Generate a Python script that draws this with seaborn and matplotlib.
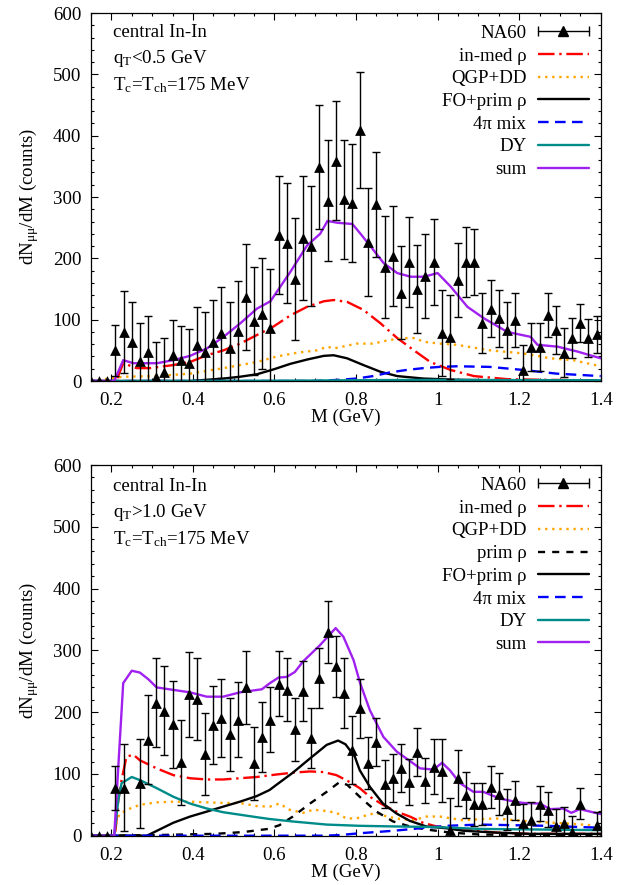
import numpy as np
import matplotlib
matplotlib.use("Agg")
import matplotlib.pyplot as plt
import seaborn as sns
from matplotlib.lines import Line2D
from matplotlib.legend_handler import HandlerLine2D, HandlerTuple
from matplotlib.ticker import MultipleLocator

# ---------------- data ----------------
x_ticks = [0.2, 0.4, 0.6, 0.8, 1.0, 1.2, 1.4]
x_ticklabels = ["0.2", "0.4", "0.6", "0.8", "1", "1.2", "1.4"]
y_ticks = [0, 100, 200, 300, 400, 500, 600]
y_ticklabels = ["0", "100", "200", "300", "400", "500", "600"]

m_data = [0.15, 0.17, 0.19, 0.21, 0.23, 0.25, 0.27, 0.29, 0.31, 0.33, 0.35, 0.37, 0.39,
          0.41, 0.43, 0.45, 0.47, 0.49, 0.51, 0.53, 0.55, 0.57, 0.59, 0.61, 0.63, 0.65,
          0.67, 0.69, 0.71, 0.73, 0.75, 0.77, 0.79, 0.81, 0.83, 0.85, 0.87, 0.89, 0.91,
          0.93, 0.95, 0.97, 0.99, 1.01, 1.03, 1.05, 1.07, 1.09, 1.11, 1.13, 1.15, 1.17,
          1.19, 1.21, 1.23, 1.25, 1.27, 1.29, 1.31, 1.33, 1.35, 1.37, 1.39]

# top panel: q_T < 0.5 GeV
top_na60 = [0, 0, 0, 50, 80, 64, 33, 48, 7, 15, 42, 34, 29, 59, 48, 64, 79, 53, 81, 137,
            98, 110, 87, 238, 225, 166, 233, 220, 349, 294, 359, 296, 290, 409, 227, 288,
            186, 204, 144, 194, 150, 171, 194, 78, 72, 165, 194, 194, 94, 118, 102, 83, 99,
            18, 56, 56, 108, 83, 46, 70, 94, 70, 76]
top_na60_err = [0, 0, 0, 42, 67, 64, 61, 58, 56, 55, 57, 56, 56, 62, 65, 68, 74, 76, 82, 86,
                88, 91, 95, 96, 98, 99, 101, 98, 101, 99, 97, 97, 96, 94, 88, 86, 83, 82, 76,
                74, 72, 68, 70, 70, 69, 60, 57, 54, 49, 47, 47, 46, 44, 41, 39, 39, 36, 39,
                40, 32, 31, 31, 30]

top_inmed_m = [0.15, 0.212, 0.229, 0.262, 0.295, 0.352, 0.393, 0.434, 0.475, 0.516, 0.557,
               0.598, 0.639, 0.68, 0.721, 0.745, 0.778, 0.818, 0.86, 0.901, 0.942, 0.982,
               1.032, 1.089, 1.171, 1.253, 1.40]
top_inmed = [0, 0, 29, 21, 21, 26, 31, 42, 50, 61, 75, 89, 107, 121, 130, 132, 129, 116, 94,
             70, 50, 31, 18, 8, 3, 2, 1]
top_qgp_m = [0.15, 0.207, 0.229, 0.312, 0.393, 0.475, 0.557, 0.606, 0.655, 0.704, 0.73,
             0.745, 0.802, 0.842, 0.883, 0.924, 0.945, 0.965, 1.005, 1.047, 1.128, 1.21,
             1.276, 1.332, 1.40]
top_qgp = [0, 5, 7, 8, 12, 21, 31, 40, 46, 50, 56, 53, 61, 61, 67, 70, 70, 64, 61, 59, 50,
           45, 37, 34, 24]
top_fo_m = [0.15, 0.393, 0.475, 0.516, 0.557, 0.598, 0.639, 0.68, 0.721, 0.745, 0.778,
            0.818, 0.86, 0.901, 0.965, 1.047, 1.21, 1.40]
top_fo = [0, 0, 4, 7, 11, 19, 28, 35, 41, 42, 37, 26, 15, 8, 4, 2, 0.5, 0]
top_mix_m = [0.15, 0.70, 0.76, 0.801, 0.842, 0.883, 0.924, 0.965, 1.005, 1.047, 1.128,
             1.21, 1.292, 1.40]
top_mix = [0, 0, 2, 4, 8, 14, 18, 21, 23, 24, 23, 18, 12, 8]
top_dy_m = [0.15, 0.5, 0.7, 0.85, 1.0, 1.2, 1.4]
top_dy = [0, 0.3, 0.8, 1.5, 1.8, 1.5, 1.2]
top_sum_m = [0.15, 0.207, 0.229, 0.254, 0.312, 0.352, 0.393, 0.434, 0.475, 0.516, 0.557,
             0.59, 0.639, 0.68, 0.712, 0.73, 0.754, 0.791, 0.811, 0.835, 0.868, 0.901,
             0.934, 0.967, 1.0, 1.032, 1.073, 1.114, 1.171, 1.228, 1.245, 1.294, 1.343, 1.40]
top_sum = [0, 0, 34, 29, 29, 34, 41, 53, 72, 94, 118, 130, 178, 221, 240, 261, 258, 256,
           240, 220, 192, 176, 170, 170, 176, 154, 121, 102, 80, 72, 59, 56, 48, 37]

# bottom panel: q_T > 1.0 GeV
bot_na60 = [0, 0, 0, 77, 78, np.nan, 85, 155, 215, 202, 180, 119, 229, 221, 132, 179, 191,
            164, 188, 240, 117, 160, 188, 246, 236, 172, 234, 158, 255, 330, 274, 231, 138,
            206, 118, 152, 84, 93, 109, 87, 135, 89, 112, 105, 9, 93, 66, 51, 52, 79, 67,
            43, 57, 21, 25, 52, 42, 16, 20, 6, 52, np.nan, 17]
bot_na60_err = [0, 0, 0, 36, 70, np.nan, 72, 72, 72, 72, 70, 69, 69, 66, 66, 63, 63, 59, 60,
                59, 59, 57, 53, 53, 51, 51, 49, 48, 48, 50, 50, 57, 55, 48, 42, 39, 39, 39,
                39, 37, 39, 36, 45, 51, 52, 45, 37, 35, 34, 34, 34, 33, 32, 30, 30, 29, 28,
                28, 26, 26, 25, np.nan, 22]

bot_inmed_m = [0.15, 0.209, 0.217, 0.225, 0.237, 0.254, 0.27, 0.311, 0.352, 0.393, 0.434,
               0.474, 0.515, 0.556, 0.604, 0.645, 0.687, 0.72, 0.752, 0.784, 0.809, 0.834,
               0.866, 0.899, 0.932, 0.964, 0.997, 1.063, 1.144, 1.226, 1.40]
bot_inmed = [0, 0, 58, 90, 128, 131, 122, 109, 98, 93, 91, 91, 93, 95, 99, 102, 104, 103,
             98, 87, 77, 63, 50, 39, 31, 21, 15, 10, 5, 3, 3]
bot_qgp_m = [0.15, 0.207, 0.213, 0.221, 0.246, 0.27, 0.311, 0.352, 0.393, 0.434, 0.474,
             0.515, 0.556, 0.588, 0.612, 0.637, 0.67, 0.695, 0.728, 0.752, 0.776, 0.801,
             0.825, 0.85, 0.875, 0.908, 0.94, 0.973, 1.006, 1.062, 1.141, 1.226, 1.31, 1.40]
bot_qgp = [0, 0, 25, 36, 44, 50, 54, 55, 55, 54, 53, 53, 48, 47, 52, 42, 37, 42, 40, 37,
           28, 28, 33, 37, 31, 27, 25, 31, 31, 25, 28, 23, 20, 16]
bot_prim_m = [0.15, 0.306, 0.455, 0.525, 0.585, 0.612, 0.645, 0.687, 0.728, 0.76, 0.779,
              0.809, 0.85, 0.891, 0.932, 0.973, 1.032, 1.102, 1.201, 1.40]
bot_prim = [0, 1, 3, 6, 11, 17, 31, 52, 71, 87, 82, 63, 39, 23, 15, 10, 5, 2, 1, 0.5]
bot_fo_m = [0.15, 0.287, 0.352, 0.393, 0.434, 0.474, 0.515, 0.556, 0.588, 0.604, 0.645,
            0.687, 0.728, 0.756, 0.774, 0.797, 0.809, 0.834, 0.866, 0.899, 0.932, 0.972,
            1.022, 1.063, 1.144, 1.226, 1.40]
bot_fo = [0, 0, 21, 31, 39, 47, 55, 64, 74, 82, 102, 125, 147, 154, 148, 128, 106, 79, 52,
          36, 24, 15, 12, 8, 5, 3, 3]
bot_mix_m = [0.15, 0.72, 0.76, 0.809, 0.892, 0.973, 1.022, 1.104, 1.185, 1.267, 1.348, 1.40]
bot_mix = [0, 0, 1, 4, 8, 13, 16, 18, 17, 16, 14, 13]
bot_dy_m = [0.15, 0.207, 0.217, 0.225, 0.25, 0.27, 0.311, 0.352, 0.393, 0.434, 0.474,
            0.515, 0.556, 0.588, 0.645, 0.728, 0.809, 0.892, 0.997, 1.102, 1.251, 1.40]
bot_dy = [0, 0, 58, 85, 95, 90, 77, 63, 52, 44, 38, 34, 30, 27, 23, 18, 16, 15, 14, 11,
          10, 9]
bot_sum_m = [0.15, 0.207, 0.229, 0.25, 0.27, 0.291, 0.311, 0.352, 0.393, 0.434, 0.474,
             0.515, 0.569, 0.589, 0.61, 0.63, 0.65, 0.67, 0.711, 0.75, 0.769, 0.794, 0.81,
             0.834, 0.867, 0.9, 0.932, 0.957, 0.99, 1.011, 1.03, 1.055, 1.088, 1.112, 1.153,
             1.19, 1.21, 1.251, 1.276, 1.308, 1.328, 1.349, 1.374, 1.40]
bot_sum = [0, 0, 247, 267, 264, 253, 240, 236, 232, 225, 225, 232, 237, 247, 256, 257, 265,
           282, 308, 336, 322, 284, 247, 203, 160, 136, 121, 109, 107, 118, 106, 85, 71, 71,
           60, 55, 53, 52, 43, 44, 37, 43, 39, 35]

top_text = ["central In-In", r"q$_{\mathrm{T}}$<0.5 GeV", r"T$_{\mathrm{c}}$=T$_{\mathrm{ch}}$=175 MeV"]
bot_text = ["central In-In", r"q$_{\mathrm{T}}$>1.0 GeV", r"T$_{\mathrm{c}}$=T$_{\mathrm{ch}}$=175 MeV"]

# ---------------- style ----------------
sns.set_theme(style="ticks")
plt.rcParams['font.family'] = ['Liberation Serif', 'DejaVu Serif']
plt.rcParams['mathtext.fontset'] = 'custom'
plt.rcParams['mathtext.rm'] = 'Liberation Serif'
plt.rcParams['mathtext.it'] = 'Liberation Serif:italic'
plt.rcParams['mathtext.bf'] = 'Liberation Serif:bold'
FS = 13.6
plt.rcParams['font.size'] = FS
plt.rcParams['axes.edgecolor'] = 'black'
plt.rcParams['xtick.color'] = 'black'
plt.rcParams['ytick.color'] = 'black'
plt.rcParams['text.color'] = 'black'
plt.rcParams['axes.labelcolor'] = 'black'

STY = {
    'inmed': dict(color='#ff0000', ls=(0, (7, 2, 1, 2))),
    'qgp': dict(color='#ffa500', ls=(0, (1, 2))),
    'prim': dict(color='black', ls=(0, (3, 3))),
    'fo': dict(color='black', ls='-'),
    'mix': dict(color='#0000ff', ls=(0, (4.5, 2.7))),
    'dy': dict(color='#008b8b', ls='-'),
    'sum': dict(color='#a020f0', ls='-'),
}
LABELS = {'inmed': 'in-med ρ', 'qgp': 'QGP+DD', 'prim': 'prim ρ', 'fo': 'FO+prim ρ',
          'mix': '4π mix', 'dy': 'DY', 'sum': 'sum'}
LW = 1.7

fig = plt.figure(figsize=(6.31, 8.85), dpi=100)
fig.patch.set_facecolor('white')
ax_top = fig.add_axes([91 / 631, 1 - 381 / 885, 509.7 / 631, 368 / 885])
ax_bot = fig.add_axes([91 / 631, 1 - 835.7 / 885, 509.7 / 631, 370.7 / 885])


def draw_panel(ax, na60, err, curves, texts, text_y):
    ax.set_facecolor('white')
    for key, (mx, my) in curves.items():
        s = STY[key]
        sns.lineplot(x=mx, y=my, ax=ax, color=s['color'], linestyle=s['ls'], linewidth=LW,
                     sort=False, estimator=None, legend=False, zorder=2)
    ax.errorbar(m_data, na60, yerr=err, fmt='none', ecolor='black', elinewidth=1.0,
                capsize=3.2, capthick=1.0, zorder=3)
    sns.scatterplot(x=m_data, y=na60, ax=ax, marker='^', color='black', s=60,
                    linewidth=0, legend=False, zorder=4)
    ax.set_xlim(0.15, 1.4)
    ax.set_ylim(0, 600)
    ax.set_xticks(x_ticks, x_ticklabels)
    ax.set_yticks(y_ticks, y_ticklabels)
    ax.xaxis.set_minor_locator(MultipleLocator(0.05))
    ax.yaxis.set_minor_locator(MultipleLocator(20))
    ax.tick_params(which='both', direction='in', top=True, right=True, width=0.8,
                   labelsize=FS)
    ax.tick_params(which='major', length=5)
    ax.tick_params(which='minor', length=2.5)
    ax.tick_params(axis='x', pad=8)
    ax.tick_params(axis='y', pad=7)
    for sp in ax.spines.values():
        sp.set_linewidth(0.9)
        sp.set_color('black')
    ax.set_xlabel('M (GeV)', fontsize=FS, labelpad=0)
    ax.set_ylabel(r'dN$_{\mathrm{μμ}}$/dM (counts)', fontsize=FS)
    ax.yaxis.set_label_coords(-0.098, 0.5)
    for t, yy in zip(texts, text_y):
        ax.text(0.0425, yy, t, transform=ax.transAxes, ha='left', va='baseline',
                fontsize=FS)

    # legend
    cap = Line2D([], [], color='black', lw=1.0, marker='|', markersize=7,
                 markeredgewidth=1.0)
    tri = Line2D([], [], ls='none', marker='^', color='black', markersize=7.5)
    handles = [(cap, tri)]
    labels = ['NA60']
    for key in curves:
        s = STY[key]
        handles.append(Line2D([], [], color=s['color'], ls=s['ls'], lw=LW))
        labels.append(LABELS[key])
    ax.legend(handles, labels, loc='upper right', bbox_to_anchor=(0.977, 0.968),
              frameon=False, markerfirst=False, borderpad=0, borderaxespad=0,
              handlelength=2.7, handletextpad=0.62, labelspacing=0.29, fontsize=FS,
              handler_map={cap: HandlerLine2D(numpoints=2, marker_pad=0),
                           tri: HandlerLine2D(numpoints=1),
                           tuple: HandlerTuple(ndivide=1, pad=0)})


top_curves = {
    'inmed': (top_inmed_m, top_inmed),
    'qgp': (top_qgp_m, top_qgp),
    'fo': (top_fo_m, top_fo),
    'mix': (top_mix_m, top_mix),
    'dy': (top_dy_m, top_dy),
    'sum': (top_sum_m, top_sum),
}
bot_curves = {
    'inmed': (bot_inmed_m, bot_inmed),
    'qgp': (bot_qgp_m, bot_qgp),
    'prim': (bot_prim_m, bot_prim),
    'fo': (bot_fo_m, bot_fo),
    'mix': (bot_mix_m, bot_mix),
    'dy': (bot_dy_m, bot_dy),
    'sum': (bot_sum_m, bot_sum),
}

draw_panel(ax_top, top_na60, top_na60_err, top_curves, top_text, [0.934, 0.865, 0.789])
draw_panel(ax_bot, bot_na60, bot_na60_err, bot_curves, bot_text, [0.931, 0.861, 0.787])

fig.savefig('out.png', dpi=100, facecolor='white')
